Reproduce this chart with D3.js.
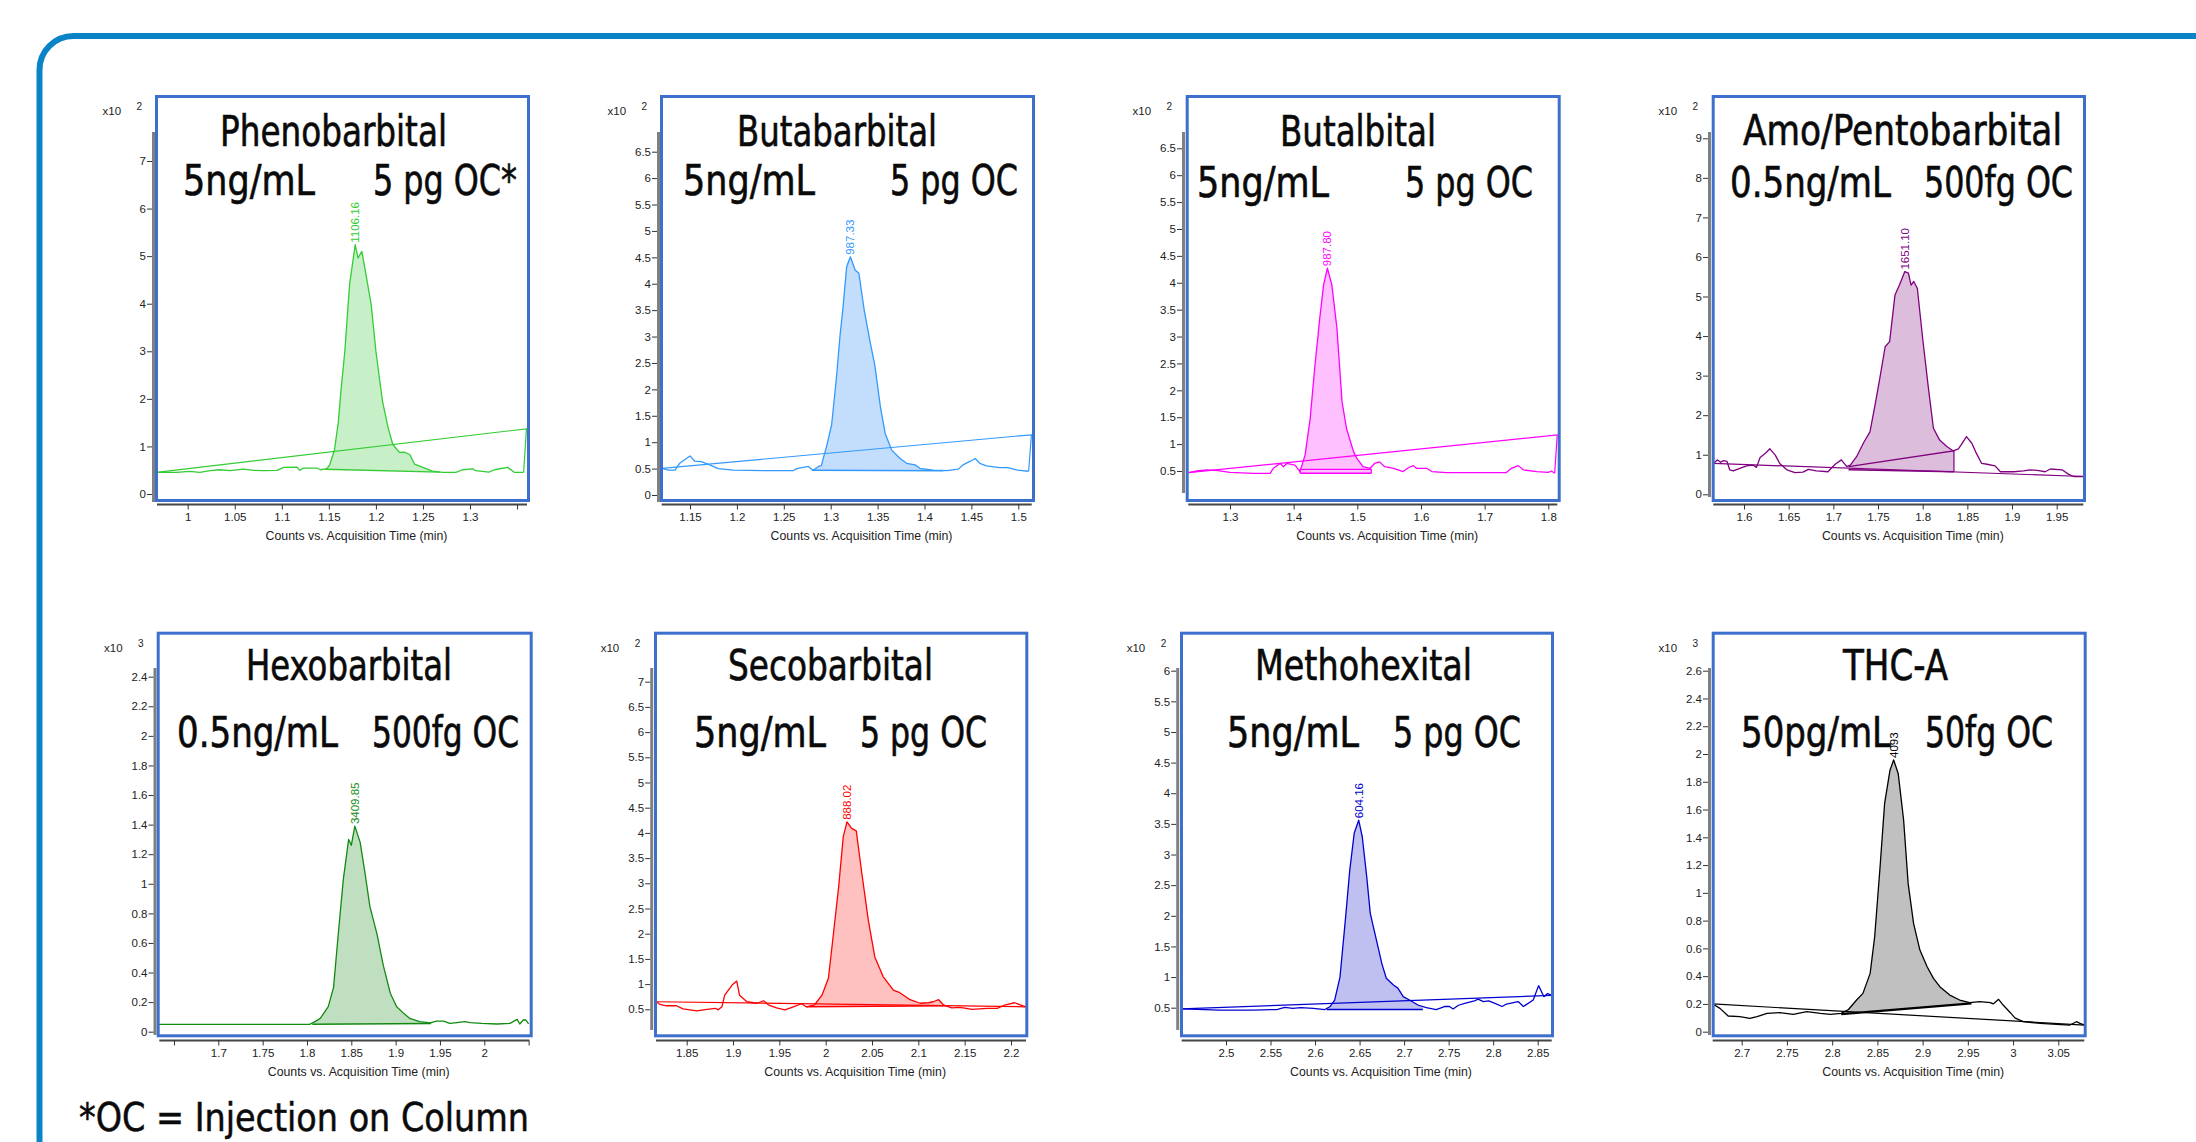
<!DOCTYPE html>
<html><head><meta charset="utf-8">
<script src="https://cdn.jsdelivr.net/npm/d3@7"></script>
<style>body{margin:0;background:#fff;} svg{display:block}</style>
</head><body><svg id="c" width="2196" height="1142"></svg>
<script>
// ---------- DATA ----------
const compounds = ["Phenobarbital","Butabarbital","Butalbital","Amo/Pentobarbital","Hexobarbital","Secobarbital","Methohexital","THC-A"];
const concentrations = ["5ng/mL","5ng/mL","5ng/mL","0.5ng/mL","0.5ng/mL","5ng/mL","5ng/mL","50pg/mL"];
const amountsOC = ["5 pg OC*","5 pg OC","5 pg OC","500fg OC","500fg OC","5 pg OC","5 pg OC","50fg OC"];
const peakAreas = ["1106.16","987.33","987.80","1651.10","3409.85","888.02","604.16","4093"];
const yExponents = ["2","2","2","2","3","2","2","3"];
const xAxisTitle = "Counts vs. Acquisition Time (min)";
const footnote = "*OC  = Injection on Column";

const yTicks = [
  [0,1,2,3,4,5,6,7],
  [0,0.5,1,1.5,2,2.5,3,3.5,4,4.5,5,5.5,6,6.5],
  [0.5,1,1.5,2,2.5,3,3.5,4,4.5,5,5.5,6,6.5],
  [0,1,2,3,4,5,6,7,8,9],
  [0,0.2,0.4,0.6,0.8,1,1.2,1.4,1.6,1.8,2,2.2,2.4],
  [0.5,1,1.5,2,2.5,3,3.5,4,4.5,5,5.5,6,6.5,7],
  [0.5,1,1.5,2,2.5,3,3.5,4,4.5,5,5.5,6],
  [0,0.2,0.4,0.6,0.8,1,1.2,1.4,1.6,1.8,2,2.2,2.4,2.6]
];
const xTicks = [
  [1,1.05,1.1,1.15,1.2,1.25,1.3],
  [1.15,1.2,1.25,1.3,1.35,1.4,1.45,1.5],
  [1.3,1.4,1.5,1.6,1.7,1.8],
  [1.6,1.65,1.7,1.75,1.8,1.85,1.9,1.95],
  [1.7,1.75,1.8,1.85,1.9,1.95,2],
  [1.85,1.9,1.95,2,2.05,2.1,2.15,2.2],
  [2.5,2.55,2.6,2.65,2.7,2.75,2.8,2.85],
  [2.7,2.75,2.8,2.85,2.9,2.95,3,3.05]
];
const xUnlabeledTicks = [[1.35],[],[],[],[1.65,2.05],[],[],[]];

// chromatogram traces: [time (min), counts (x10^n)]
const phenobarbitalTrace = [[0.967,0.455],[0.988,0.455],[1.002,0.476],[1.013,0.455],[1.024,0.49],[1.034,0.51],[1.045,0.49],[1.059,0.525],[1.07,0.497],[1.08,0.49],[1.095,0.497],[1.102,0.56],[1.116,0.567],[1.119,0.497],[1.123,0.546],[1.137,0.546],[1.141,0.51],[1.148,0.532],[1.151,0.616],[1.156,0.93],[1.16,1.5],[1.163,2.2],[1.167,3.0],[1.172,4.4],[1.176,4.96],[1.178,5.24],[1.181,4.96],[1.185,5.1],[1.188,4.78],[1.195,3.98],[1.2,3.0],[1.207,1.95],[1.213,1.39],[1.218,1.04],[1.225,0.875],[1.23,0.88],[1.236,0.83],[1.241,0.63],[1.25,0.56],[1.26,0.48],[1.271,0.455],[1.285,0.455],[1.292,0.51],[1.303,0.53],[1.306,0.49],[1.32,0.46],[1.326,0.51],[1.34,0.56],[1.347,0.455],[1.357,0.455]];
const butabarbitalTrace = [[1.12,0.505],[1.127,0.47],[1.134,0.47],[1.139,0.6],[1.15,0.74],[1.155,0.64],[1.162,0.63],[1.171,0.57],[1.18,0.5],[1.196,0.47],[1.232,0.46],[1.26,0.46],[1.264,0.5],[1.276,0.54],[1.281,0.47],[1.287,0.54],[1.29,0.555],[1.296,0.95],[1.301,1.33],[1.306,2.2],[1.31,3.03],[1.313,3.53],[1.317,4.32],[1.321,4.51],[1.326,4.26],[1.33,4.2],[1.336,3.47],[1.342,2.9],[1.347,2.46],[1.353,1.67],[1.358,1.17],[1.365,0.85],[1.374,0.69],[1.381,0.6],[1.39,0.57],[1.395,0.505],[1.409,0.47],[1.424,0.46],[1.436,0.49],[1.441,0.57],[1.449,0.64],[1.454,0.69],[1.459,0.6],[1.466,0.55],[1.48,0.52],[1.489,0.52],[1.499,0.47],[1.511,0.45]];
const butalbitalTrace = [[1.235,0.47],[1.248,0.5],[1.263,0.52],[1.278,0.51],[1.3,0.475],[1.337,0.457],[1.363,0.457],[1.368,0.55],[1.379,0.64],[1.384,0.58],[1.389,0.64],[1.402,0.61],[1.41,0.49],[1.418,0.8],[1.426,1.48],[1.433,2.41],[1.441,3.34],[1.447,3.96],[1.453,4.27],[1.46,3.96],[1.468,3.15],[1.476,1.79],[1.483,1.29],[1.494,0.86],[1.499,0.74],[1.509,0.58],[1.52,0.55],[1.527,0.64],[1.535,0.67],[1.543,0.58],[1.557,0.55],[1.572,0.49],[1.58,0.56],[1.588,0.6],[1.593,0.55],[1.609,0.55],[1.617,0.49],[1.64,0.47],[1.734,0.47],[1.742,0.55],[1.753,0.6],[1.761,0.52],[1.782,0.49],[1.8,0.475],[1.805,0.5],[1.81,0.457]];
const amoPentobarbitalTrace = [[1.566,0.78],[1.57,0.87],[1.574,0.81],[1.577,0.85],[1.581,0.83],[1.584,0.62],[1.588,0.59],[1.596,0.66],[1.603,0.72],[1.61,0.74],[1.614,0.68],[1.618,0.93],[1.624,1.04],[1.629,1.15],[1.635,0.99],[1.64,0.78],[1.648,0.62],[1.657,0.55],[1.666,0.56],[1.672,0.63],[1.681,0.59],[1.694,0.57],[1.702,0.76],[1.709,0.87],[1.715,0.7],[1.719,0.74],[1.726,0.95],[1.734,1.31],[1.741,1.58],[1.747,2.3],[1.752,2.93],[1.758,3.73],[1.763,3.86],[1.769,5.04],[1.774,5.29],[1.78,5.63],[1.784,5.59],[1.787,5.29],[1.79,5.38],[1.794,5.21],[1.8,3.94],[1.806,2.76],[1.812,1.67],[1.819,1.37],[1.827,1.21],[1.834,1.1],[1.84,1.15],[1.843,1.25],[1.849,1.46],[1.855,1.29],[1.86,1.04],[1.866,0.78],[1.872,0.76],[1.881,0.72],[1.887,0.57],[1.902,0.57],[1.913,0.59],[1.92,0.62],[1.93,0.6],[1.937,0.57],[1.943,0.64],[1.956,0.62],[1.963,0.51],[1.969,0.45],[1.98,0.45]];
const hexobarbitalTrace = [[1.632,0.05],[1.803,0.05],[1.809,0.068],[1.815,0.09],[1.824,0.17],[1.83,0.3],[1.835,0.64],[1.841,1.03],[1.847,1.3],[1.85,1.26],[1.854,1.39],[1.86,1.28],[1.865,1.09],[1.871,0.845],[1.879,0.66],[1.886,0.45],[1.894,0.26],[1.901,0.17],[1.909,0.124],[1.916,0.09],[1.927,0.068],[1.939,0.06],[1.946,0.072],[1.954,0.072],[1.961,0.056],[1.969,0.062],[1.978,0.068],[1.984,0.062],[1.997,0.056],[2.014,0.052],[2.029,0.056],[2.037,0.083],[2.04,0.052],[2.044,0.079],[2.047,0.079],[2.05,0.052]];
const secobarbitalTrace = [[1.817,0.65],[1.821,0.6],[1.828,0.57],[1.839,0.57],[1.846,0.51],[1.861,0.47],[1.872,0.5],[1.881,0.52],[1.884,0.49],[1.888,0.55],[1.891,0.78],[1.899,0.98],[1.904,1.06],[1.907,0.78],[1.915,0.65],[1.926,0.62],[1.933,0.67],[1.938,0.59],[1.947,0.53],[1.956,0.49],[1.965,0.55],[1.974,0.61],[1.979,0.55],[1.988,0.59],[1.996,0.78],[2.003,1.12],[2.008,1.94],[2.014,2.93],[2.019,3.93],[2.023,4.22],[2.028,4.09],[2.033,4.04],[2.039,3.2],[2.046,2.27],[2.053,1.54],[2.062,1.15],[2.073,0.88],[2.08,0.83],[2.091,0.69],[2.102,0.62],[2.111,0.63],[2.116,0.65],[2.122,0.69],[2.127,0.59],[2.136,0.53],[2.145,0.54],[2.158,0.5],[2.174,0.52],[2.185,0.52],[2.194,0.59],[2.204,0.63],[2.21,0.59],[2.216,0.55]];
const methohexitalTrace = [[2.45,0.48],[2.493,0.46],[2.53,0.46],[2.557,0.47],[2.566,0.505],[2.575,0.49],[2.584,0.5],[2.598,0.49],[2.611,0.47],[2.617,0.52],[2.622,0.625],[2.628,1.0],[2.634,1.93],[2.639,2.75],[2.644,3.35],[2.649,3.56],[2.653,3.29],[2.658,2.64],[2.662,2.04],[2.669,1.6],[2.675,1.22],[2.68,0.98],[2.688,0.87],[2.693,0.82],[2.699,0.68],[2.706,0.625],[2.716,0.54],[2.725,0.5],[2.736,0.47],[2.746,0.52],[2.751,0.52],[2.755,0.48],[2.761,0.54],[2.77,0.58],[2.779,0.61],[2.783,0.64],[2.789,0.6],[2.795,0.61],[2.802,0.57],[2.81,0.52],[2.815,0.56],[2.828,0.6],[2.834,0.52],[2.845,0.625],[2.851,0.86],[2.857,0.68],[2.861,0.73],[2.866,0.7]];
const thcaTrace = [[2.668,0.2],[2.676,0.168],[2.685,0.113],[2.698,0.108],[2.709,0.096],[2.717,0.108],[2.728,0.132],[2.742,0.137],[2.757,0.125],[2.772,0.144],[2.787,0.132],[2.798,0.125],[2.81,0.132],[2.818,0.16],[2.827,0.228],[2.834,0.276],[2.842,0.42],[2.847,0.684],[2.853,1.19],[2.858,1.645],[2.864,1.885],[2.868,1.957],[2.873,1.86],[2.879,1.525],[2.884,1.068],[2.89,0.78],[2.897,0.588],[2.905,0.468],[2.912,0.384],[2.919,0.324],[2.93,0.264],[2.941,0.228],[2.952,0.209],[2.963,0.216],[2.975,0.209],[2.978,0.2],[2.984,0.233],[2.989,0.192],[2.997,0.137],[3.002,0.1],[3.011,0.072],[3.03,0.06],[3.048,0.053],[3.063,0.048],[3.07,0.072],[3.074,0.06],[3.079,0.048]];
const traces = [phenobarbitalTrace,butabarbitalTrace,butalbitalTrace,amoPentobarbitalTrace,hexobarbitalTrace,secobarbitalTrace,methohexitalTrace,thcaTrace];

// integration window per peak: [startTime, startBaseline, endTime, endBaseline]
const peakWindows = [
  [1.146,0.52,1.268,0.46],
  [1.28,0.47,1.42,0.46],
  [1.41,0.457,1.522,0.457],
  [1.717,0.62,1.835,0.57],
  [1.806,0.05,1.94,0.055],
  [1.979,0.55,2.13,0.57],
  [2.613,0.47,2.721,0.47],
  [2.81,0.127,2.954,0.204]
];
// extra baseline / integration lines drawn by the software
const baselineLines = [
  [[[1.357,0.455],[1.36,1.37],[0.967,0.455]]],
  [[[1.511,0.45],[1.514,1.14],[1.12,0.505]]],
  [[[1.81,0.457],[1.814,1.17],[1.235,0.47]],[[1.41,0.457],[1.41,0.53],[1.522,0.53],[1.522,0.457]]],
  [[[1.566,0.78],[1.98,0.45]],[[1.717,0.7],[1.835,1.1],[1.835,0.57]]],
  [],
  [[[1.817,0.65],[2.216,0.55]]],
  [[[2.45,0.48],[2.866,0.7]]],
  [[[2.668,0.2],[3.079,0.048]]]
];

// ---------- STYLE / LAYOUT ----------
const strokeColors = ["#33cc33","#3399ff","#ff00ff","#800080","#128a12","#ff0000","#0000d0","#000000"];
const fillColors   = ["#c8f0c8","#c2defc","#ffc0ff","#dcbedc","#c0dec0","#ffc0c0","#c0c0f0","#c0c0c0"];
const layouts = [
 {box:[155,95,530,502], yAx:153.5, ySpan:[132,502], yCal:[0,494,7,161], xAxY:504.5, xSpan:[157,527], xCal:[1,187.7,1.3,470], title:[220,447,146], conc:[183,315,195], amt:[373,517,195]},
 {box:[660,95,1035,502], yAx:658.5, ySpan:[132,502], yCal:[0,495,6.5,151.7], xAxY:504.5, xSpan:[661.7,1031.7], xCal:[1.15,690,1.5,1018.3], title:[737,937,146], conc:[683,815,195], amt:[890,1018,195]},
 {box:[1185.7,95,1560.7,502], yAx:1183.5, ySpan:[132,493], yCal:[0.5,471,6.5,148.3], xAxY:504.5, xSpan:[1188.3,1557.3], xCal:[1.3,1230,1.8,1548.3], title:[1280,1436,146], conc:[1197,1329,197], amt:[1405,1533,197]},
 {box:[1711.7,95,2086,502], yAx:1709.5, ySpan:[132,497], yCal:[0,494.3,9,138.3], xAxY:504.5, xSpan:[1713.3,2083.3], xCal:[1.6,1744,1.95,2056.7], title:[1743,2062,145], conc:[1730,1891,197], amt:[1924,2073,197]},
 {box:[156.7,631.7,532.7,1037.3], yAx:155, ySpan:[668,1035], yCal:[0,1031.7,2.4,676.7], xAxY:1040.5, xSpan:[159.3,529.3], xCal:[1.7,218.3,2,484.3], title:[246,452,680], conc:[177,338,746.5], amt:[372,519,746.5]},
 {box:[654,631.7,1028.3,1037.3], yAx:651.7, ySpan:[668,1030], yCal:[0.5,1009.3,7,681.7], xAxY:1040.5, xSpan:[656,1026], xCal:[1.85,686.7,2.2,1011], title:[728,933,680], conc:[694,826,746.5], amt:[860,987,746.5]},
 {box:[1180,631.7,1554,1037.3], yAx:1177.7, ySpan:[668,1030], yCal:[0.5,1007.7,6,670.7], xAxY:1040.5, xSpan:[1181.7,1551.7], xCal:[2.5,1226,2.85,1537.7], title:[1255,1472,680], conc:[1227,1359,746.5], amt:[1393,1521,746.5]},
 {box:[1711.7,631.7,2086.7,1037.3], yAx:1709.5, ySpan:[668,1035], yCal:[0,1031.7,2.6,670.7], xAxY:1040.5, xSpan:[1712.7,2084.3], xCal:[2.7,1741.7,3.05,2058.3], title:[1843,1948,680], conc:[1741,1891,746.5], amt:[1925,2053,746.5]}
];
const bigFont = '"Liberation Sans Narrow","DejaVu Sans Condensed","Arial Narrow",sans-serif';
const smallFont = '"Liberation Sans",Arial,sans-serif';
const fmt = d => String(+d.toFixed(2));

// ---------- DRAW ----------
const svg = d3.select("#c");
svg.append("rect").attr("width",2196).attr("height",1142).attr("fill","#fff");
// outer rounded frame
svg.append("path").attr("d","M39.5,1160 L39.5,70 A34,34 0 0 1 73.5,36 L2210,36")
  .attr("fill","none").attr("stroke","#0a84c6").attr("stroke-width",6);

layouts.forEach((L,i) => {
  const x = d3.scaleLinear().domain([L.xCal[0],L.xCal[2]]).range([L.xCal[1],L.xCal[3]]);
  const y = d3.scaleLinear().domain([L.yCal[0],L.yCal[2]]).range([L.yCal[1],L.yCal[3]]);
  const g = svg.append("g");
  const col = strokeColors[i];
  const data = traces[i];
  const [t0,b0,t1,b1] = peakWindows[i];

  // y axis
  g.append("line").attr("x1",L.yAx).attr("x2",L.yAx).attr("y1",L.ySpan[0]).attr("y2",L.ySpan[1])
    .attr("stroke","#808080").attr("stroke-width",3);
  const ya = g.append("g").attr("transform",`translate(${L.yAx-1.5},0)`)
    .call(d3.axisLeft(y).tickValues(yTicks[i]).tickSize(5).tickPadding(1).tickFormat(fmt));
  ya.select(".domain").remove();
  ya.selectAll("line").attr("stroke","#333");
  ya.selectAll("text").attr("font-family",smallFont).attr("font-size",11.5).attr("fill","#222");

  // x axis
  g.append("line").attr("x1",L.xSpan[0]).attr("x2",L.xSpan[1]).attr("y1",L.xAxY).attr("y2",L.xAxY)
    .attr("stroke","#444").attr("stroke-width",2);
  const labeled = xTicks[i];
  const xa = g.append("g").attr("transform",`translate(0,${L.xAxY})`)
    .call(d3.axisBottom(x).tickValues(labeled.concat(xUnlabeledTicks[i])).tickSize(5).tickPadding(3)
      .tickFormat(d => labeled.includes(d) ? fmt(d) : ""));
  xa.select(".domain").remove();
  xa.selectAll("line").attr("stroke","#333");
  xa.selectAll("text").attr("font-family",smallFont).attr("font-size",11.5).attr("fill","#222");

  // x axis title
  g.append("text").attr("x",(L.box[0]+L.box[2])/2+14).attr("y",L.xAxY+35.5)
    .attr("text-anchor","middle").attr("font-family",smallFont).attr("font-size",12.3).attr("fill","#222")
    .text(xAxisTitle);
  // x10^n
  const ey = L.box[1]+20;
  g.append("text").attr("x",L.yAx-51).attr("y",ey).attr("font-family",smallFont).attr("font-size",11.5).attr("fill","#222").text("x10");
  g.append("text").attr("x",L.yAx-17).attr("y",ey-5).attr("font-family",smallFont).attr("font-size",10).attr("fill","#222").text(yExponents[i]);

  // peak fill
  const interp = t => {
    for (let k=0;k<data.length-1;k++){
      const [ta,va]=data[k],[tb,vb]=data[k+1];
      if (t>=ta && t<=tb) return va+(vb-va)*(t-ta)/(tb-ta);
    }
    return data[data.length-1][1];
  };
  const poly = [[t0,interp(t0)]].concat(data.filter(d=>d[0]>t0&&d[0]<t1)).concat([[t1,interp(t1)],[t1,b1],[t0,b0]]);
  const line = d3.line().x(d=>x(d[0])).y(d=>y(d[1]));
  g.append("path").attr("d",line(poly)+"Z").attr("fill",fillColors[i]).attr("stroke","none");
  // peak baseline
  g.append("path").attr("d",line([[t0,b0],[t1,b1]])).attr("fill","none").attr("stroke",col)
    .attr("stroke-width", i===7 ? 2.2 : 1.4);
  // trace
  g.append("path").attr("d",line(data)).attr("fill","none").attr("stroke",col).attr("stroke-width",1.3)
    .attr("stroke-linejoin","round");
  // software baselines
  baselineLines[i].forEach(pl => {
    g.append("path").attr("d",line(pl)).attr("fill","none").attr("stroke",col).attr("stroke-width",1.2);
  });
  // peak label
  const inWin = data.filter(d=>d[0]>=t0&&d[0]<=t1);
  const pk = inWin.reduce((a,b)=> b[1]>a[1]?b:a);
  g.append("text").attr("transform",`translate(${x(pk[0])+4},${y(pk[1])-2}) rotate(-90)`)
    .attr("font-family",smallFont).attr("font-size",11.5).attr("fill",col).text(peakAreas[i]);

  // panel box
  const [bx0,by0,bx1,by1] = L.box;
  g.append("rect").attr("x",bx0+1.5).attr("y",by0+1.5).attr("width",bx1-bx0-3).attr("height",by1-by0-3)
    .attr("fill","none").attr("stroke","#3d6fcc").attr("stroke-width",3);

  // titles
  const big = (spec, txt) => g.append("text").attr("x",spec[0]).attr("y",spec[2])
    .attr("textLength",spec[1]-spec[0]).attr("lengthAdjust","spacingAndGlyphs")
    .attr("font-family",bigFont).attr("font-size",42).attr("fill","#0a0a0a")
    .attr("stroke","#0a0a0a").attr("stroke-width",0.6).text(txt);
  big(L.title, compounds[i]);
  big(L.conc, concentrations[i]);
  big(L.amt, amountsOC[i]);
});

// footnote
svg.append("text").attr("x",79).attr("y",1131).attr("textLength",450).attr("lengthAdjust","spacingAndGlyphs")
  .attr("font-family",bigFont).attr("font-size",39).attr("fill","#0a0a0a")
  .attr("stroke","#0a0a0a").attr("stroke-width",0.5).text(footnote);
</script>
</body></html>
